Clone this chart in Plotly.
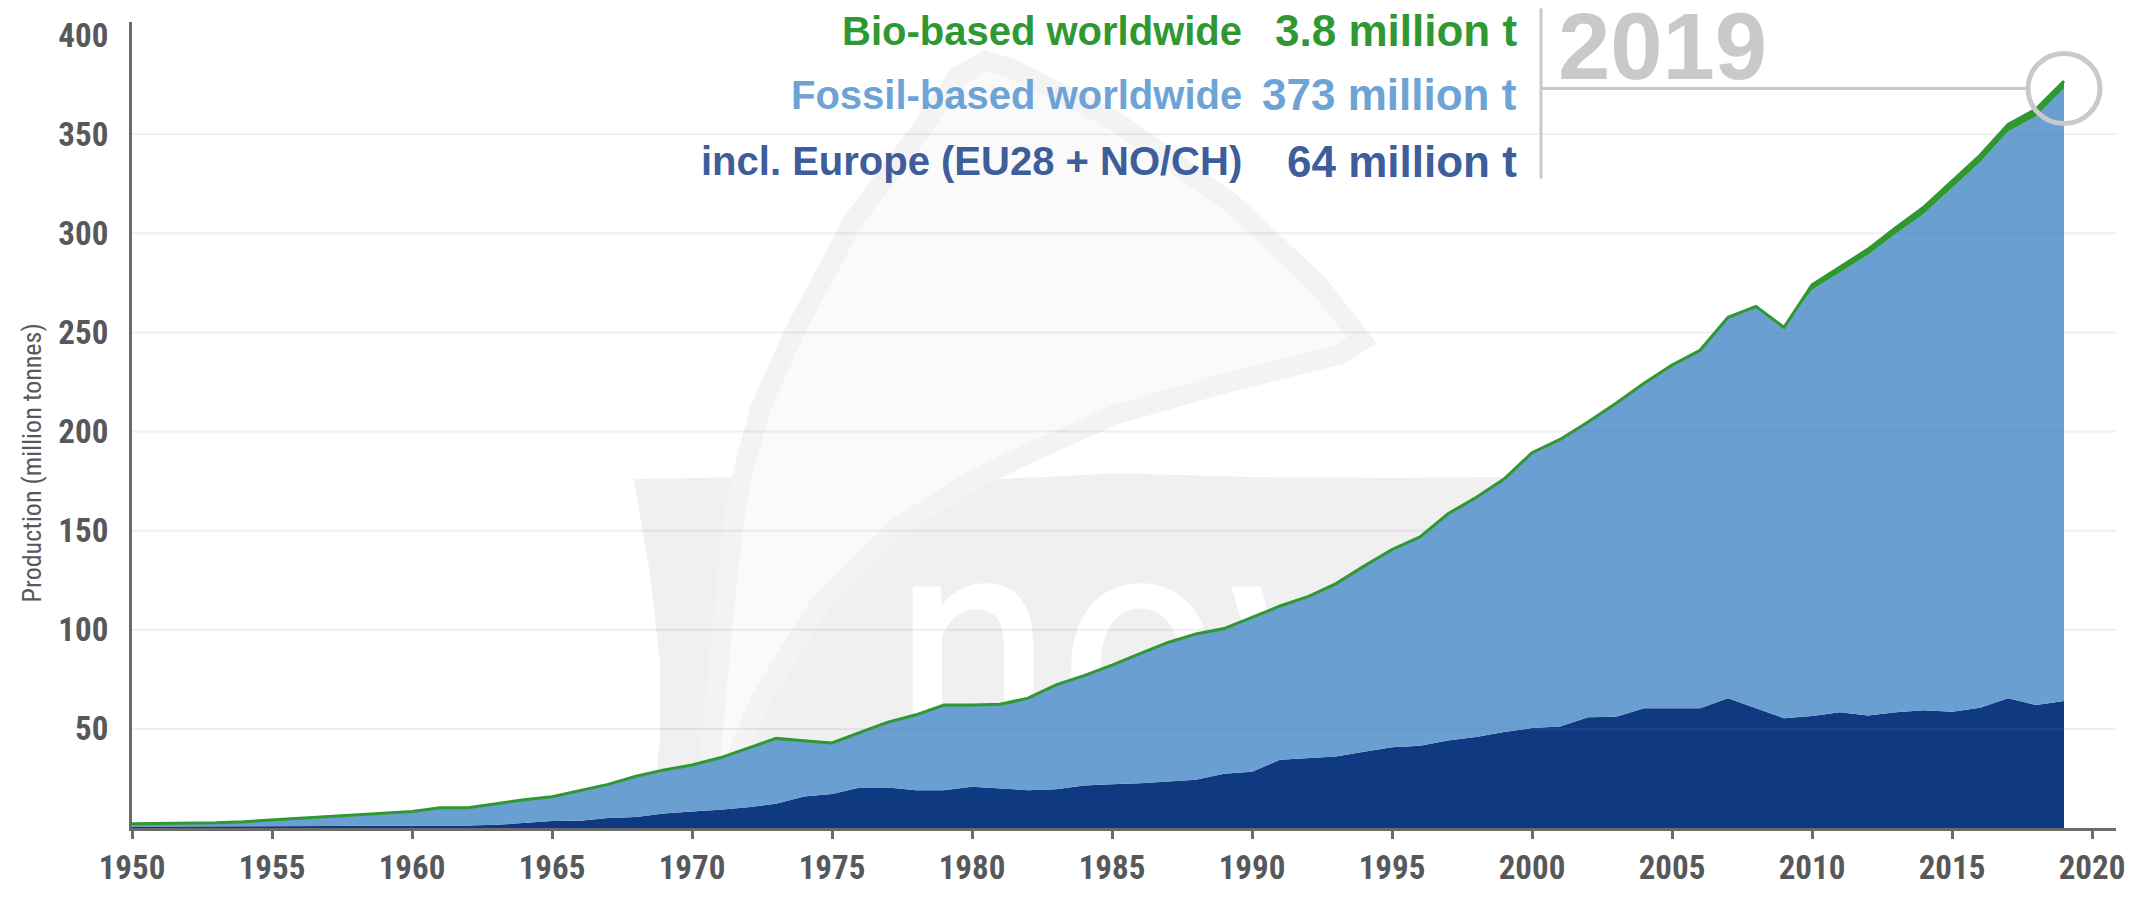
import plotly.graph_objects as go

# ---- data (million tonnes) ----
years = list(range(1950, 2020))

fossil_worldwide = [
    2.2, 2.3, 2.5, 2.7, 3.2, 4.0, 5.0, 5.8, 6.6, 7.4,
    8.3, 10.2, 10.2, 12.2, 14.3, 15.8, 18.9, 22.0, 26.1, 29.3,
    31.8, 35.4, 40.3, 45.2, 44.0, 42.9, 48.2, 53.4, 57.1, 62.0,
    62.0, 62.4, 65.5, 72.2, 76.9, 82.2, 88.0, 93.6, 97.9, 100.6,
    106.2, 112.0, 116.7, 123.3, 132.1, 140.5, 146.8, 158.5, 166.7, 176.0,
    189.3, 196.0, 204.8, 214.3, 224.3, 233.5, 241.0, 257.6, 263.1, 252.6,
    271.4, 280.2, 289.0, 299.7, 309.9, 322.8, 335.7, 351.2, 358.9, 373.0,
]

bio_worldwide = [0.0] * 60 + [2.6, 2.8, 3.0, 3.2, 3.4, 3.5, 3.6, 3.7, 3.7, 3.8]

europe = [
    0.7, 0.7, 0.8, 0.8, 0.9, 0.9, 1.0, 1.0, 1.1, 1.1,
    1.2, 1.3, 1.3, 1.6, 2.6, 3.5, 3.7, 5.1, 5.6, 7.3,
    8.3, 9.2, 10.5, 12.2, 15.9, 17.1, 20.4, 20.4, 19.0, 19.0,
    20.8, 19.8, 19.1, 19.5, 21.4, 22.1, 22.6, 23.5, 24.4, 27.4,
    28.4, 34.4, 35.4, 36.1, 38.4, 40.7, 41.5, 44.1, 45.9, 48.4,
    50.4, 51.2, 55.9, 56.1, 60.4, 60.4, 60.4, 65.4, 60.4, 55.4,
    56.5, 58.4, 56.8, 58.4, 59.4, 58.6, 60.7, 65.4, 62.0, 64.0,
]

x_ticks = list(range(1950, 2021, 5))
y_ticks = list(range(50, 401, 50))

headline_year = "2019"
legend_rows = [
    ("Bio-based worldwide", "3.8 million t", "#2f9833"),
    ("Fossil-based worldwide", "373 million t", "#6ea3d6"),
    ("incl. Europe (EU28 + NO/CH)", "64 million t", "#3d5d9b"),
]

# ---- styling ----
NAVY = "#0f3a81"
SKY = "#6a9fd1"
GREEN = "#2f9833"
AXIS_GREY = "#58585a"
LIGHT_GREY = "#c9c9cb"
COND = ("Roboto Condensed, Noto Sans Condensed, DejaVu Sans Condensed, "
        "Liberation Sans Narrow, Roboto, sans-serif")
BOLD = "Liberation Sans, Arial, sans-serif"

W, H = 2144, 899
L, R, T, B = 132, 28, 22, 48
plot_w, plot_h = W - L - R, H - T - B
X_MIN = 1950
PX_PER_YEAR = 28.0
PX_PER_UNIT = 2.039
X_MAX = X_MIN + plot_w / PX_PER_YEAR
Y_MAX = plot_h / PX_PER_UNIT


def px_to_data(px, py):
    return X_MIN + (px - L) / PX_PER_YEAR, (H - B - py) / PX_PER_UNIT


def px_to_paper(px, py):
    return (px - L) / plot_w, (H - B - py) / plot_h


def data_path(points, close=False):
    pts = [px_to_data(px, py) for px, py in points]
    d = "M " + " L ".join(f"{x:.3f},{y:.3f}" for x, y in pts)
    return d + (" Z" if close else "")


total_worldwide = [f + b for f, b in zip(fossil_worldwide, bio_worldwide)]

fig = go.Figure()

# faint "nova" watermark lettering (sits under the area fills)
wx, wy = px_to_data(1210, 700)
fig.add_trace(go.Scatter(
    x=[wx], y=[wy], mode="text", text=["nova"],
    textfont=dict(family=COND, size=340, color="white"),
    hoverinfo="skip", showlegend=False,
))

fig.add_trace(go.Scatter(
    x=years, y=europe, mode="lines", fill="tozeroy",
    fillcolor=NAVY, line=dict(width=0, color=NAVY),
    name="incl. Europe", showlegend=False,
))
fig.add_trace(go.Scatter(
    x=years, y=fossil_worldwide, mode="lines", fill="tonexty",
    fillcolor=SKY, line=dict(width=0, color=SKY),
    name="Fossil-based worldwide", showlegend=False,
))
fig.add_trace(go.Scatter(
    x=years, y=total_worldwide, mode="lines", fill="tonexty",
    fillcolor=GREEN, line=dict(width=3, color=GREEN),
    name="Bio-based worldwide", showlegend=False,
))

shapes = []

# watermark: grey block with a sail-shaped outline running through it
block = [(634, 492), (760, 490), (900, 487), (1000, 492), (1120, 486), (1250, 490),
         (1400, 491), (1585, 489), (1578, 700), (1570, 851), (650, 851), (660, 760),
         (660, 680), (650, 590)]
shapes.append(dict(type="path", path=data_path(block, close=True), xref="x", yref="y",
                   fillcolor="#f0f0f0", line=dict(width=0), layer="below"))
sail = [(705, 851), (712, 760), (722, 650), (733, 540), (741, 493), (760, 420),
        (795, 340), (853, 227), (921, 133), (958, 78), (985, 62), (1012, 70),
        (1117, 125), (1231, 208), (1318, 292), (1362, 350), (1340, 364),
        (1231, 392), (1117, 425), (1030, 465), (973, 493), (900, 540),
        (820, 620), (760, 720), (722, 815), (708, 851)]
shapes.append(dict(type="path", path=data_path(sail, close=True), xref="x", yref="y",
                   fillcolor="#fafafa", line=dict(color="#f3f3f3", width=20),
                   layer="below"))

# horizontal grid lines (drawn over the areas)
for v in y_ticks:
    if v < 400:
        shapes.append(dict(type="line", xref="paper", yref="y", x0=0, x1=1, y0=v, y1=v,
                           line=dict(color="rgba(120,110,170,0.13)", width=2),
                           layer="above"))

# year callout: separator, leader line and ring around the final value
sx0, sy0 = px_to_paper(1541, 8)
_, sy1 = px_to_paper(1541, 183)
shapes.append(dict(type="line", xref="paper", yref="paper", x0=sx0, x1=sx0, y0=sy0, y1=sy1,
                   line=dict(color=LIGHT_GREY, width=3)))
ring_r_x = 36 / PX_PER_YEAR
ring_r_y = 36 / PX_PER_UNIT
last_year, last_fossil = years[-1], fossil_worldwide[-1]
shapes.append(dict(type="line", xref="paper", yref="y", x0=sx0,
                   x1=(last_year - ring_r_x - X_MIN) / (X_MAX - X_MIN),
                   y0=last_fossil, y1=last_fossil,
                   line=dict(color=LIGHT_GREY, width=3)))
shapes.append(dict(type="circle", xref="x", yref="y",
                   x0=last_year - ring_r_x, x1=last_year + ring_r_x,
                   y0=last_fossil - ring_r_y, y1=last_fossil + ring_r_y,
                   line=dict(color=LIGHT_GREY, width=5)))

annotations = []
row_centres = [31, 97, 165]
for (label, value, colour), cy in zip(legend_rows, row_centres):
    lx, ly = px_to_paper(1244, cy)
    vx, _ = px_to_paper(1519, cy)
    annotations.append(dict(xref="paper", yref="paper", x=lx, y=ly, xanchor="right",
                            yanchor="middle", text=label, showarrow=False,
                            font=dict(family=BOLD, size=40, color=colour, weight="bold")))
    annotations.append(dict(xref="paper", yref="paper", x=vx, y=ly, xanchor="right",
                            yanchor="middle", text=value, showarrow=False,
                            font=dict(family=BOLD, size=44, color=colour, weight="bold")))

hx, hy = px_to_paper(1556, 8)
annotations.append(dict(xref="paper", yref="paper", x=hx, y=hy, xanchor="left",
                        yanchor="top", text=headline_year, showarrow=False,
                        font=dict(family=BOLD, size=94, color=LIGHT_GREY, weight="bold"),
                        yshift=16))

tx, ty = px_to_paper(32, 476)
annotations.append(dict(xref="paper", yref="paper", x=tx, y=ty, xanchor="center",
                        yanchor="middle", textangle=-90, showarrow=False,
                        text="Production (million tonnes)",
                        font=dict(family=COND, size=26, color=AXIS_GREY)))

tick_font = dict(family=COND, size=33, color=AXIS_GREY, weight="bold")

fig.update_layout(
    width=W, height=H,
    margin=dict(l=L, r=R, t=T, b=B, pad=0),
    paper_bgcolor="white", plot_bgcolor="white",
    showlegend=False,
    shapes=shapes, annotations=annotations,
    xaxis=dict(
        range=[X_MIN, X_MAX], tickvals=x_ticks, ticktext=[str(t) for t in x_ticks],
        showgrid=False, zeroline=False, showline=True, linecolor="#6b6b6b", linewidth=3,
        ticks="outside", ticklen=8, tickwidth=3, tickcolor="#6b6b6b",
        tickfont=tick_font,
    ),
    yaxis=dict(
        range=[0, Y_MAX], tickvals=y_ticks, ticktext=[str(t) for t in y_ticks],
        showgrid=False, zeroline=False, showline=True, linecolor="#6b6b6b", linewidth=3,
        ticks="", ticklabelstandoff=14,
        tickfont=tick_font,
    ),
)

fig.write_html("out.html")
